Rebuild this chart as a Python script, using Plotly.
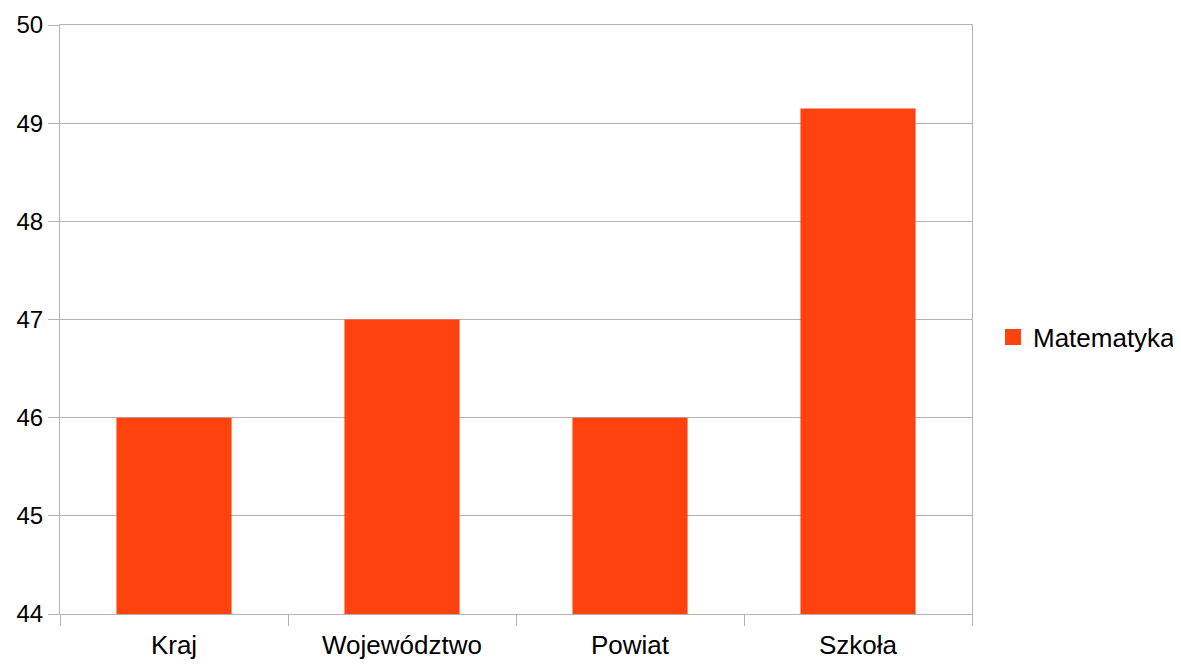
import plotly.graph_objects as go

categories = ["Kraj", "Województwo", "Powiat", "Szkoła"]
values = [46, 47, 46, 49.15]
series_name = "Matematyka"
y_ticks = [44, 45, 46, 47, 48, 49, 50]
color = "#FF420E"

fig = go.Figure()
fig.add_trace(go.Bar(x=categories, y=values, name=series_name,
                     marker=dict(color=color, line=dict(width=0)),
                     showlegend=False))
# legend entry with a square key like the original
fig.add_trace(go.Scatter(x=[None], y=[None], mode="markers", name=series_name,
                         marker=dict(symbol="square", size=17, color=color),
                         showlegend=True))

grid = "#b3b3b3"
# page body has an 8px margin, so the figure is offset by 8px
fig.update_layout(
    width=1195, height=658,
    margin=dict(l=52, r=231, t=17, b=52),
    paper_bgcolor="white", plot_bgcolor="white",
    font=dict(family="Liberation Sans, Arial, sans-serif", size=26, color="black"),
    bargap=0.495,
    showlegend=True,
    legend=dict(x=1.023, y=0.47, xanchor="left", yanchor="middle",
                font=dict(size=26), itemwidth=30),
    xaxis=dict(showline=True, linecolor=grid, linewidth=1, mirror=True,
               ticks="outside", tickson="boundaries", ticklen=11, tickcolor=grid,
               showgrid=False, tickfont=dict(size=26), automargin=False,
               ticklabelstandoff=8),
    yaxis=dict(range=[44, 50], tickvals=y_ticks, showline=True, linecolor=grid,
               linewidth=1, mirror=True, ticks="outside", ticklen=11, tickcolor=grid,
               showgrid=True, gridcolor=grid, gridwidth=1, zeroline=False,
               tickfont=dict(size=24), automargin=False),
)
fig.write_html("out.html")
